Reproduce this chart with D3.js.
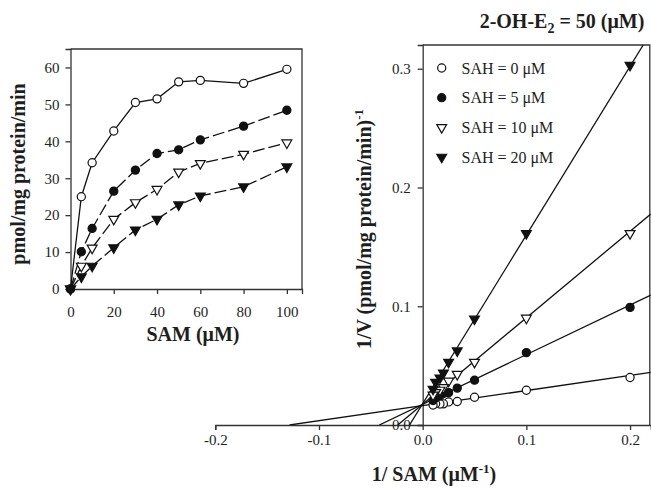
<!DOCTYPE html>
<html>
<head>
<meta charset="UTF-8">
<title></title>
<script src="https://cdn.jsdelivr.net/npm/d3@7"></script>
<style>
    body{margin:0;background:#fff;}
    svg text{font-family:"Liberation Serif","Times New Roman",serif;fill:#1e1e1e;}
    .tick text{font-size:15px;}
    .lab{font-weight:bold;font-size:20px;}
    .domain,.tick line{stroke:#333;stroke-width:1.3px;}
</style>
</head>
<body>
<script>
    // inset: velocity vs SAM
    var samConc=[0,5,10,20,30,40,50,60,80,100];
    var sah0=[0,25,34.2,42.8,50.5,51.5,56.1,56.5,55.7,59.5];
    var sah5=[0,10.1,16.4,26.5,32.2,36.7,37.7,40.4,44.1,48.4];
    var sah10=[0,6.2,11.1,18.9,23.4,27,31.7,34,36.5,39.6];
    var sah20=[0,3.3,6.2,11.2,16,18.9,22.8,25.2,27.7,33.1];
    var legendLabels=["SAH = 0 μM","SAH = 5 μM","SAH = 10 μM","SAH = 20 μM"];
    // double-reciprocal fit lines: 1/V = intercept + slope*(1/SAM)
    var fitIntercept=[0.0163,0.0175,0.0175,0.018];
    var fitSlope=[0.127,0.418,0.728,1.42];
    var insetXTicks=[0,20,40,60,80,100];
    var insetYTicks=[0,10,20,30,40,50,60];
    var mainXTicks=[-0.2,-0.1,0,0.1,0.2];
    var mainYTicks=[0,0.1,0.2,0.3];

    var series=[
        {v:sah0,tri:false,fill:"#fff",dash:null},
        {v:sah5,tri:false,fill:"#111",dash:"12,4"},
        {v:sah10,tri:true,fill:"#fff",dash:"12,4"},
        {v:sah20,tri:true,fill:"#111",dash:"12,4"}
    ];

    var svg=d3.select("body").append("svg")
            .attr("width",651).attr("height",488);

    function marker(g,s,x,y){
        var sym=d3.symbol().type(s.tri?d3.symbolTriangle:d3.symbolCircle).size(s.tri?42:52);
        g.append("path")
                .attr("d",sym())
                .attr("transform","translate("+x+","+y+")"+(s.tri?" rotate(180)":""))
                .attr("fill",s.fill)
                .attr("stroke","#111")
                .attr("stroke-width",1.2);
    }
    // plain hyphen for negatives, like the original
    var fmt1=function(d){return d3.format(".1f")(d).replace("\u2212","-");};

    // ---------- inset ----------
    var ix=d3.scaleLinear().domain([0,107]).range([70.5,302]);
    var iy=d3.scaleLinear().domain([0,65]).range([289,49]);
    var inset=svg.append("g");
    inset.append("path")
            .attr("d","M"+ix(0)+","+iy(65)+"H"+ix(107)+"V"+iy(0))
            .attr("fill","none").attr("stroke","#333").attr("stroke-width",1.3);
    inset.append("g").attr("transform","translate(0,"+iy(0)+")")
            .call(d3.axisBottom(ix).tickValues(insetXTicks).tickSizeOuter(0).tickSize(5).tickPadding(12));
    inset.append("g").attr("transform","translate("+ix(0)+",0)")
            .call(d3.axisLeft(iy).tickValues(insetYTicks).tickSizeOuter(0).tickSize(5).tickPadding(6));
    var line=d3.line().x(function(d){return ix(d[0]);}).y(function(d){return iy(d[1]);});
    series.forEach(function(s){
        var pts=samConc.map(function(c,i){return [c,s.v[i]];});
        inset.append("path").attr("d",line(pts))
                .attr("fill","none").attr("stroke","#111").attr("stroke-width",1.3)
                .attr("stroke-dasharray",s.dash);
    });
    series.forEach(function(s){
        samConc.forEach(function(c,i){marker(inset,s,ix(c),iy(s.v[i]));});
    });
    inset.append("text").attr("class","lab")
            .attr("transform","translate(25,174) rotate(-90)")
            .attr("text-anchor","middle").text("pmol/mg protein/min");
    inset.append("text").attr("class","lab")
            .attr("x",193).attr("y",341).attr("text-anchor","middle").text("SAM (μM)");

    // ---------- Lineweaver-Burk ----------
    var mx=d3.scaleLinear().domain([-0.2,0.22]).range([215.3,650.8]);
    var my=d3.scaleLinear().domain([0,0.32]).range([425,45]);
    var main=svg.append("g");
    main.append("path")
            .attr("d","M"+mx(0)+","+my(0.32)+"H"+(mx(0.22)-1)+"V"+my(0))
            .attr("fill","none").attr("stroke","#333").attr("stroke-width",1.3);
    main.append("g").attr("transform","translate(0,"+my(0)+")")
            .call(d3.axisBottom(mx).tickValues(mainXTicks).tickFormat(fmt1).tickSizeOuter(0).tickSize(5).tickPadding(4));
    main.append("g").attr("transform","translate("+mx(0)+",0)")
            .call(d3.axisLeft(my).tickValues(mainYTicks).tickFormat(fmt1).tickSizeOuter(0).tickSize(5).tickPadding(7));

    svg.append("clipPath").attr("id","clip").append("rect")
            .attr("x",mx(-0.2)).attr("y",my(0.32))
            .attr("width",mx(0.22)-mx(-0.2)).attr("height",my(0)-my(0.32));
    var lines=main.append("g").attr("clip-path","url(#clip)");
    fitSlope.forEach(function(m,k){
        var b=fitIntercept[k];
        var x0=-b/m, x1=Math.min(0.22,(0.32-b)/m);
        lines.append("line")
                .attr("x1",mx(x0)).attr("y1",my(0))
                .attr("x2",mx(x1)).attr("y2",my(b+m*x1))
                .attr("stroke","#111").attr("stroke-width",1.3);
    });
    series.forEach(function(s){
        samConc.forEach(function(c,i){
            if(c===0) return;
            marker(main,s,mx(1/c),my(1/s.v[i]));
        });
    });

    // legend
    var lg=main.append("g");
    legendLabels.forEach(function(t,i){
        var y=68+i*29.7;
        marker(lg,series[i],441.7,y);
        lg.append("text").attr("x",461.5).attr("y",y+5.5)
                .style("font-size","16px").text(t);
    });

    // labels
    var yl=main.append("text").attr("class","lab")
            .attr("transform","translate(371,229) rotate(-90)")
            .attr("text-anchor","middle");
    yl.append("tspan").text("1/V (pmol/mg protein/min)");
    yl.append("tspan").attr("dy",-8).style("font-size","13px").text("-1");

    var xl=main.append("text").attr("class","lab")
            .attr("x",434).attr("y",481).attr("text-anchor","middle");
    xl.append("tspan").text("1/ SAM (μM");
    xl.append("tspan").attr("dy",-8).style("font-size","13px").text("-1");
    xl.append("tspan").attr("dy",8).text(")");

    var tl=main.append("text").attr("class","lab")
            .attr("x",562).attr("y",28).attr("text-anchor","middle");
    tl.append("tspan").text("2-OH-E");
    tl.append("tspan").attr("dy",5).style("font-size","14px").text("2");
    tl.append("tspan").attr("dy",-5).text(" = 50 (μM)");
</script>
</body>
</html>
